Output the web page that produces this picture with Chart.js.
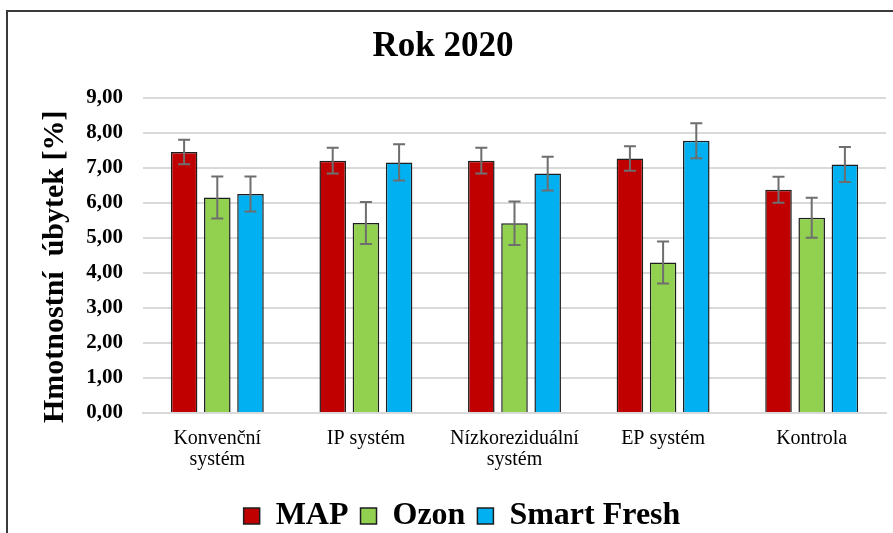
<!DOCTYPE html>
<html>
<head>
<meta charset="utf-8">
<script src="https://cdn.jsdelivr.net/npm/chart.js@4"></script>
<style>
  body { margin: 0; background: #fff; }
  #wrap { position: relative; width: 893px; height: 533px; overflow: hidden; }
  #frame { position: absolute; left: 6px; top: 10px; width: 900px; height: 522px;
           border-top: 2px solid #3a3a3a; border-left: 2px solid #3a3a3a; }
  canvas { position: absolute; left: 0; top: 0; }
</style>
</head>
<body>
<div id="wrap">
  <div id="frame"></div>
  <canvas id="myChart" width="893" height="533"></canvas>
</div>
<script>
// categories
var categories = [['Konvenční', 'systém'], 'IP systém', ['Nízkoreziduální', 'systém'], 'EP systém', 'Kontrola'];
// series values
var mapValues = [7.46, 7.21, 7.21, 7.27, 6.38];
var ozonValues = [6.16, 5.43, 5.42, 4.30, 5.58];
var smartFreshValues = [6.26, 7.16, 6.84, 7.78, 7.10];
// error (+/-) for each series
var mapErrors = [0.35, 0.37, 0.37, 0.35, 0.37];
var ozonErrors = [0.60, 0.60, 0.62, 0.60, 0.57];
var smartFreshErrors = [0.50, 0.52, 0.48, 0.50, 0.50];
// y ticks
var yMin = 0, yMax = 9, yStep = 1;

// draw error bars from the dataset values
var errorBars = {
  id: 'errorBars',
  afterDatasetsDraw: function(chart) {
    var ctx = chart.ctx;
    var yScale = chart.scales.y;
    ctx.save();
    ctx.strokeStyle = '#6e6e6e';
    ctx.lineWidth = 2;
    chart.data.datasets.forEach(function(ds, i) {
      var meta = chart.getDatasetMeta(i);
      meta.data.forEach(function(bar, j) {
        var v = ds.data[j], e = ds.errors[j];
        var top = yScale.getPixelForValue(v + e);
        var bottom = yScale.getPixelForValue(v - e);
        var x = bar.x;
        ctx.beginPath();
        ctx.moveTo(x, top); ctx.lineTo(x, bottom);
        ctx.moveTo(x - 6, top); ctx.lineTo(x + 6, top);
        ctx.moveTo(x - 6, bottom); ctx.lineTo(x + 6, bottom);
        ctx.stroke();
      });
    });
    ctx.restore();
  }
};

// legend sits a little right of centre in the original
var shiftLegend = {
  id: 'shiftLegend',
  afterLayout: function(chart) {
    chart.legend.left += 19;
    chart.legend.right += 19;
  }
};

var ctx = document.getElementById('myChart').getContext('2d');
var myChart = new Chart(ctx, {
  type: 'bar',
  data: {
    labels: categories,
    datasets: [{
      label: 'MAP',
      data: mapValues,
      errors: mapErrors,
      backgroundColor: '#C00000',
      borderColor: '#1e1e1e',
      borderWidth: 1.5
    }, {
      label: 'Ozon',
      data: ozonValues,
      errors: ozonErrors,
      backgroundColor: '#92D050',
      borderColor: '#1e1e1e',
      borderWidth: 1.5
    }, {
      label: 'Smart Fresh',
      data: smartFreshValues,
      errors: smartFreshErrors,
      backgroundColor: '#00B0F0',
      borderColor: '#1e1e1e',
      borderWidth: 1.5
    }]
  },
  options: {
    responsive: false,
    animation: false,
    categoryPercentage: 0.67,
    barPercentage: 0.8,
    layout: { padding: { left: 0, right: 7, top: 0, bottom: -9 } },
    plugins: {
      title: {
        display: true,
        text: 'Rok 2020',
        color: '#000',
        font: { family: 'Liberation Serif', size: 35, weight: 'bold' },
        padding: { top: 26, bottom: 30 }
      },
      legend: {
        position: 'bottom',
        labels: {
          color: '#000',
          font: { family: 'Liberation Serif', size: 32, weight: 'bold' },
          boxWidth: 16,
          boxHeight: 16,
          padding: 12
        }
      },
      tooltip: { enabled: false }
    },
    scales: {
      x: {
        afterFit: function(scale) { scale.height = 75; },
        grid: { display: false, drawTicks: false },
        border: { color: '#d9d9d9', width: 2 },
        ticks: {
          color: '#000',
          maxRotation: 0,
          padding: 15,
          font: { family: 'Liberation Serif', size: 20, lineHeight: 1.05 }
        }
      },
      y: {
        min: yMin,
        max: yMax,
        afterFit: function(scale) { scale.width = 143; },
        grid: { color: '#d9d9d9', lineWidth: 2, drawTicks: false },
        border: { display: false },
        ticks: {
          stepSize: yStep,
          color: '#000',
          padding: 20,
          font: { family: 'Liberation Serif', size: 21, weight: 'bold' },
          callback: function(v) { return v.toFixed(2).replace('.', ','); }
        },
        title: {
          display: true,
          text: 'Hmotnostní  úbytek [%]   ',
          color: '#000',
          font: { family: 'Liberation Serif', size: 30, weight: 'bold' },
          padding: { top: 37, bottom: 0 }
        }
      }
    }
  },
  plugins: [errorBars, shiftLegend]
});
</script>
</body>
</html>
